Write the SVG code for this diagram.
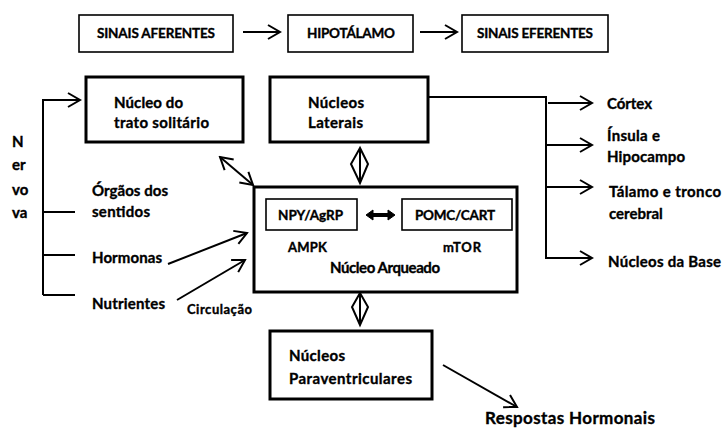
<svg xmlns="http://www.w3.org/2000/svg" width="723" height="429" viewBox="0 0 723 429">
<style>
text{font-family:Lato,"Open Sans","Liberation Sans",sans-serif;font-weight:bold;font-size:15px;fill:#000;stroke:#000;stroke-width:0.35}
.s{font-size:13.5px}
.xs{font-size:13px}
.thin{fill:#fff;stroke:#000;stroke-width:1.6}
.thick{fill:#fff;stroke:#000;stroke-width:3}
.c{fill:none;stroke:#000;stroke-width:2}
</style>
<defs>
<marker id="a" markerWidth="16" markerHeight="18" refX="14" refY="9" orient="auto-start-reverse" markerUnits="userSpaceOnUse">
<path d="M2,2 L14,9 L2,16" fill="none" stroke="#000" stroke-width="2"/>
</marker>
</defs>
<rect width="723" height="429" fill="#fff"/>
<g id="sinais-aferentes"><rect class="thin" x="79" y="15" width="154" height="37"/><text class="s" x="97" y="38" textLength="118">SINAIS AFERENTES</text></g>
<g id="hipotalamo"><rect class="thin" x="288" y="15" width="125" height="37"/><text class="s" x="307" y="38" textLength="88">HIPOTÁLAMO</text></g>
<g id="sinais-eferentes"><rect class="thin" x="462" y="15" width="146" height="37"/><text class="s" x="477" y="38" textLength="116">SINAIS EFERENTES</text></g>
<g id="nucleo-trato-solitario"><rect class="thick" x="86" y="77" width="157" height="65"/><text x="114" y="108" textLength="69">Núcleo do</text><text x="114" y="128" textLength="95">trato solitário</text></g>
<g id="nucleos-laterais"><rect class="thick" x="270" y="77" width="158" height="65"/><text x="308" y="108" textLength="56">Núcleos</text><text x="308" y="128" textLength="55">Laterais</text></g>
<g id="nucleo-arqueado"><rect class="thick" x="254" y="187" width="263" height="105"/>
<text x="330" y="273" textLength="110">Núcleo Arqueado</text><text class="xs" x="288" y="252" textLength="39">AMPK</text><text class="xs" x="443" y="252" textLength="38">mTOR</text></g>
<g id="npy-agrp"><rect class="thin" x="266" y="199" width="91" height="31"/><text class="s" x="278" y="220" textLength="65">NPY/AgRP</text></g>
<g id="pomc-cart"><rect class="thin" x="402" y="199" width="110" height="31"/><text class="s" x="415" y="220" textLength="80">POMC/CART</text></g>
<g id="nucleos-paraventriculares"><rect class="thick" x="270" y="331" width="162" height="68"/><text x="289" y="361" textLength="56">Núcleos</text><text x="289" y="384" textLength="123">Paraventriculares</text></g>
<g id="nervo-vago"><text x="12" y="147">N</text><text x="12" y="170">er</text><text x="12" y="195">vo</text><text x="12" y="218">va</text></g>
<g id="orgaos-sentidos"><text x="92" y="196" textLength="76">Órgãos dos</text><text x="92" y="217" textLength="58">sentidos</text></g>
<g id="hormonas"><text x="92" y="263" textLength="70">Hormonas</text></g>
<g id="nutrientes"><text x="92" y="309" textLength="73">Nutrientes</text></g>
<g id="circulacao"><text class="xs" x="187" y="314" textLength="65">Circulação</text></g>
<g id="cortex"><text x="607" y="109" textLength="45">Córtex</text></g>
<g id="insula"><text x="607" y="141" textLength="53">Ínsula e</text><text x="607" y="162" textLength="78">Hipocampo</text></g>
<g id="talamo"><text x="609" y="197" textLength="112">Tálamo e tronco</text><text x="609" y="219">cerebral</text></g>
<g id="nucleos-base"><text x="608" y="267" textLength="113">Núcleos da Base</text></g>
<g id="respostas"><text x="485" y="424" style="font-size:17px" textLength="170">Respostas Hormonais</text></g>
<g id="connectors">
<line class="c" x1="243" y1="32" x2="280" y2="32" marker-end="url(#a)"/>
<line class="c" x1="420" y1="32" x2="457" y2="32" marker-end="url(#a)"/>
<path class="c" d="M43,295 V100 H80" marker-end="url(#a)"/>
<line class="c" x1="43" y1="212" x2="75" y2="212"/>
<line class="c" x1="43" y1="255" x2="75" y2="255"/>
<line class="c" x1="43" y1="295" x2="75" y2="295"/>
<path class="c" d="M428,97 H546 V258 H592" marker-end="url(#a)"/>
<line class="c" x1="548" y1="103" x2="592" y2="103" marker-end="url(#a)"/>
<line class="c" x1="546" y1="145" x2="592" y2="145" marker-end="url(#a)"/>
<line class="c" x1="546" y1="187" x2="592" y2="187" marker-end="url(#a)"/>
<line class="c" x1="220" y1="157" x2="253" y2="185" marker-start="url(#a)" marker-end="url(#a)"/>
<line class="c" x1="168" y1="264" x2="247" y2="233" marker-end="url(#a)"/>
<line class="c" x1="177" y1="300" x2="245" y2="260" marker-end="url(#a)"/>
<line class="c" x1="443" y1="365" x2="517" y2="407" marker-end="url(#a)"/>
<path class="c" d="M360,148 L351,164 L360,183 L368,164 Z M360,148 V183"/>
<path class="c" d="M360,293 L352,307 L360,325 L368,307 Z M360,293 V325"/>
<path d="M366,215 L373,210 L373,213.5 L388,213.5 L388,210 L395,215 L388,220 L388,216.5 L373,216.5 L373,220 Z" fill="#000" stroke="#000" stroke-width="1"/>
</g>
</svg>
